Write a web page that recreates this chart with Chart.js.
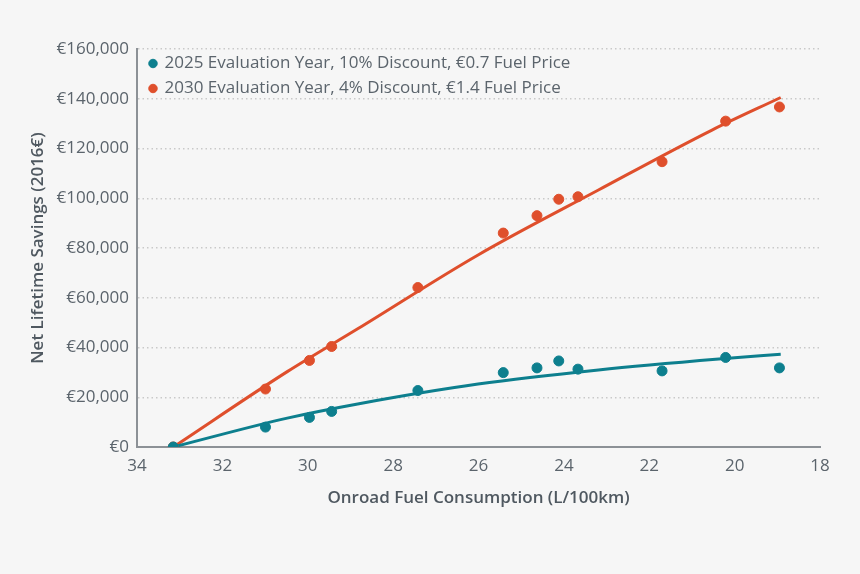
<!DOCTYPE html>
<html>
<head>
<meta charset="utf-8">
<script src="https://cdn.jsdelivr.net/npm/chart.js@4/dist/chart.umd.min.js"></script>
<style>
  html, body { margin: 0; padding: 0; background: #f6f6f6; }
  #wrap { width: 860px; height: 574px; position: relative; }
</style>
</head>
<body>
<div id="wrap"><canvas id="c" width="860" height="574"></canvas></div>
<script>
// Onroad fuel consumption (L/100km) for each vehicle point
const fuelConsumption = [33.15, 30.99, 29.96, 29.44, 27.42, 25.42, 24.63, 24.12, 23.67, 21.70, 20.21, 18.95];
// Net lifetime savings (2016 €)
const savings2025 = [0, 8000, 11900, 14300, 22700, 29900, 31800, 34600, 31300, 30600, 36000, 31800];
const savings2030 = [0, 23300, 34800, 40400, 64100, 86000, 93000, 99600, 100600, 114700, 131000, 136700];
// Fitted trend curves
const fit2025X = [33.15, 30.48, 28.83, 26.01, 23.19, 20.37, 18.92];
const fit2025Y = [0, 11600, 17300, 25300, 31000, 35400, 37300];
const fit2030X = [33.15, 30.48, 28.83, 26.01, 23.19, 20.53, 18.92];
const fit2030Y = [0, 30300, 47500, 77200, 103300, 127400, 140500];
const seriesLabels = [
  "2025 Evaluation Year, 10% Discount, €0.7 Fuel Price",
  "2030 Evaluation Year, 4% Discount, €1.4 Fuel Price"
];
const xTicks = [34, 32, 30, 28, 26, 24, 22, 20, 18];
const yTicks = [0, 20000, 40000, 60000, 80000, 100000, 120000, 140000, 160000];

const TEAL = '#0d7f8e';
const RED = '#df4f2c';
const TEXT = '#5b646c';
const FONT = "'Open Sans', 'Noto Sans', sans-serif";

const pts = (xs, ys) => xs.map((x, i) => ({x: x, y: ys[i]}));

// place the in-plot legend at the top-left of the plotting area
const legendPlace = {
  id: 'legendPlace',
  afterLayout(chart) {
    const lg = chart.legend;
    if (!lg) return;
    const dy = (chart.chartArea.top - 2) - lg.top;
    const dx = 5;
    lg.top += dy; lg.bottom += dy;
    lg.left += dx; lg.right += dx;
  }
};

new Chart(document.getElementById('c'), {
  type: 'scatter',
  data: {
    datasets: [
      { label: seriesLabels[0], data: pts(fuelConsumption, savings2025), backgroundColor: TEAL, borderColor: TEAL, pointRadius: 5, pointHoverRadius: 5, order: 1 },
      { label: seriesLabels[1], data: pts(fuelConsumption, savings2030), backgroundColor: RED, borderColor: RED, pointRadius: 5, pointHoverRadius: 5, order: 1 },
      { label: 'fit2025', type: 'line', data: pts(fit2025X, fit2025Y), borderColor: TEAL, borderWidth: 3, pointRadius: 0, fill: false, cubicInterpolationMode: 'monotone', order: 2 },
      { label: 'fit2030', type: 'line', data: pts(fit2030X, fit2030Y), borderColor: RED, borderWidth: 3, pointRadius: 0, fill: false, cubicInterpolationMode: 'monotone', order: 2 }
    ]
  },
  plugins: [legendPlace],
  options: {
    responsive: false,
    animation: false,
    layout: { padding: { left: 0, right: 40, top: 49, bottom: 62 } },
    plugins: {
      tooltip: { enabled: false },
      legend: {
        position: 'chartArea',
        align: 'start',
        labels: {
          filter: (item) => item.datasetIndex < 2,
          usePointStyle: true,
          pointStyle: 'circle',
          boxWidth: 6,
          boxHeight: 6,
          padding: 8,
          color: TEXT,
          font: { family: FONT, size: 17 }
        }
      }
    },
    scales: {
      x: {
        type: 'linear',
        reverse: true,
        min: 18,
        max: 34,
        afterBuildTicks: (s) => { s.ticks = xTicks.map(v => ({value: v})); },
        afterFit: (s) => { s.height = 65; },
        grid: { display: false, drawTicks: false },
        border: { display: true, color: '#8c9196', width: 2 },
        ticks: { color: TEXT, padding: 9, font: { family: FONT, size: 17 }, callback: (v) => String(v) },
        title: { display: true, text: 'Onroad Fuel Consumption (L/100km)', color: '#4f5860', padding: { top: 2 }, font: { family: FONT, size: 17, weight: '600' } }
      },
      y: {
        min: 0,
        max: 160000,
        afterBuildTicks: (s) => { s.ticks = yTicks.map(v => ({value: v})); },
        afterFit: (s) => { s.width = 137; },
        grid: { color: '#c9c9c9', lineWidth: 1.5, drawTicks: false },
        border: { display: true, color: '#8c9196', width: 2, dash: [1.5, 3] },
        ticks: { color: TEXT, padding: 8, font: { family: FONT, size: 17 }, callback: (v) => '€' + v.toLocaleString('en-US') },
        title: { display: true, text: 'Net Lifetime Savings (2016€)', color: '#4f5860', padding: { top: 28, bottom: 0 }, font: { family: FONT, size: 17, weight: '600' } }
      }
    }
  }
});
</script>
</body>
</html>
